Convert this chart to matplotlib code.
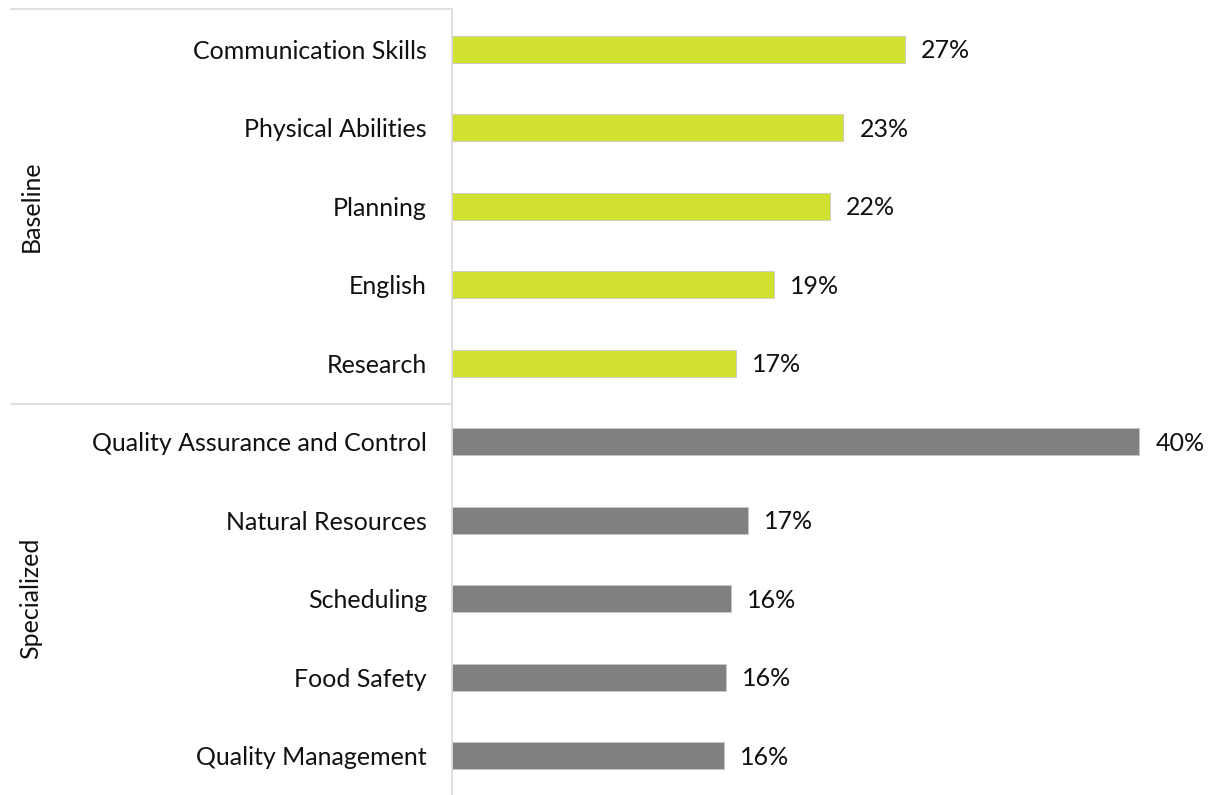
import matplotlib.pyplot as plt
from matplotlib.lines import Line2D

# Data
skills = ['Communication Skills', 'Physical Abilities', 'Planning', 'English', 'Research',
          'Quality Assurance and Control', 'Natural Resources', 'Scheduling', 'Food Safety',
          'Quality Management']
shares = [26.6, 23.0, 22.2, 18.9, 16.7, 40.4, 17.4, 16.4, 16.1, 16.0]
groups = ['Baseline'] * 5 + ['Specialized'] * 5
group_names = ['Baseline', 'Specialized']
group_colors = {'Baseline': '#D0E22F', 'Specialized': '#808080'}

plt.rcParams['font.family'] = ['Lato', 'DejaVu Sans']

fig = plt.figure(figsize=(12.21, 7.95), dpi=100)
ax = fig.add_axes([452 / 1221, 0, 1 - 452 / 1221, 1 - 10 / 795])

y = list(range(len(skills)))
colors = [group_colors[g] for g in groups]
ax.barh(y, shares, height=0.34, color=colors, edgecolor='#C8C8C8', linewidth=0.6)

for yi, v in zip(y, shares):
    ax.text(v + 0.95, yi + 0.02, f"{round(v)}%", va='center', ha='left', fontsize=18, color='#111111')

ax.set_ylim(len(skills) - 0.5, -0.5)
ax.set_xlim(0, 45.2)
ax.set_yticks(y)
ax.set_yticklabels(skills, fontsize=18, color='#111111')
ax.tick_params(axis='y', length=0, pad=18)
ax.set_xticks([])
for s in ['top', 'right', 'bottom']:
    ax.spines[s].set_visible(False)
ax.spines['left'].set_color('#D9D9D9')
ax.spines['left'].set_linewidth(1.2)

# group separators and labels in figure coords
for yy in [1 - 9 / 795, 1 - 404 / 795]:
    fig.add_artist(Line2D([11 / 1221, 452 / 1221], [yy, yy], color='#D9D9D9', lw=1.2))

n_per = [groups.count(g) for g in group_names]
start = 0
for g, n in zip(group_names, n_per):
    mid = start + (n - 1) / 2
    yd = ax.transData.transform((0, mid))[1]
    yf = fig.transFigure.inverted().transform((0, yd))[1]
    fig.text(31 / 1221, yf, g, rotation=90, va='center', ha='center', fontsize=18, color='#111111')
    start += n

plt.savefig('out.png', dpi=100)
